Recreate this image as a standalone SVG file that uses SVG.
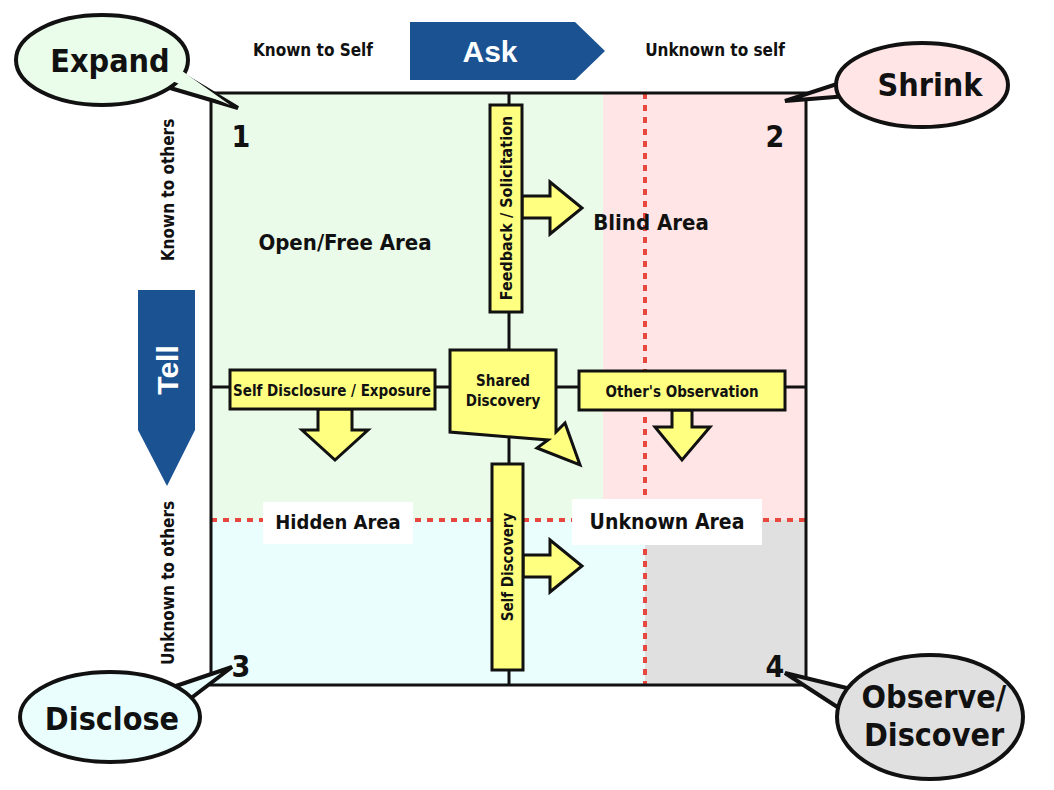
<svg xmlns="http://www.w3.org/2000/svg" width="1054" height="790" viewBox="0 0 1054 790">
<style>
.t{font-family:"DejaVu Sans Condensed","DejaVu Sans",sans-serif;font-weight:bold;fill:#111;text-anchor:middle}
.y{fill:#ffff80;stroke:#111;stroke-width:3;stroke-linejoin:miter}
.red{stroke:#e8473d;stroke-width:4;stroke-dasharray:6 6;fill:none}
.bub{stroke:#111;stroke-width:4}
</style>
<rect width="1054" height="790" fill="#fff"/>
<g id="quadrants">
<rect x="211" y="93" width="392" height="427" fill="#ebfbea"/>
<rect x="603" y="93" width="203" height="427" fill="#ffe5e5"/>
<rect x="211" y="520" width="434" height="165" fill="#eafefe"/>
<rect x="645" y="520" width="161" height="165" fill="#e0e0e0"/>
<line class="red" x1="645" y1="93" x2="645" y2="685"/>
<line class="red" x1="211" y1="520" x2="806" y2="520"/>
<rect x="211" y="93" width="595" height="592" fill="none" stroke="#111" stroke-width="3"/>
</g>
<g id="connectors" stroke="#111" stroke-width="3">
<line x1="509" y1="93" x2="509" y2="685"/>
<line x1="211" y1="387" x2="806" y2="387"/>
</g>
<g id="labels">
<text class="t" x="313" y="56" font-size="17" font-weight="normal">Known to Self</text>
<text class="t" x="715" y="56" font-size="17">Unknown to self</text>
<text class="t" x="0" y="0" font-size="17" transform="translate(174,190) rotate(-90)">Known to others</text>
<text class="t" x="0" y="0" font-size="17" transform="translate(174,583) rotate(-90)">Unknown to others</text>
<text class="t" x="241" y="147" font-size="30">1</text>
<text class="t" x="775" y="147" font-size="30">2</text>
<text class="t" x="241" y="677" font-size="30">3</text>
<text class="t" x="775" y="677" font-size="30">4</text>
<text class="t" x="345" y="250" font-size="22">Open/Free Area</text>
<text class="t" x="651" y="230" font-size="22">Blind Area</text>
</g>
<g id="ask">
<path d="M410 22H575L605 51L575 80H410Z" fill="#1a5292"/>
<text x="490" y="62" font-family="Liberation Sans,Arial,sans-serif" font-weight="bold" font-size="30" fill="#fff" text-anchor="middle">Ask</text>
</g>
<g id="tell">
<path d="M138 290H195V430L167 486L138 430Z" fill="#1a5292"/>
<text x="0" y="0" font-family="Liberation Sans,Arial,sans-serif" font-weight="bold" font-size="30" fill="#fff" text-anchor="middle" transform="translate(178,370) rotate(-90)">Tell</text>
</g>
<g id="feedback">
<path class="y" d="M522 196H550V182L582 208L550 234V218H522Z"/>
<rect class="y" x="490" y="105" width="32" height="207"/>
<text class="t" font-size="16" transform="translate(512,208) rotate(-90)">Feedback / Solicitation</text>
</g>
<g id="shared">
<path class="y" d="M450 350H556V432L565 423L580 465L537 448L548 440L450 432Z"/>
<path class="y" d="M450 350H556V418L565 418L580 465L537 449L548 432L450 432Z" opacity="0"/>
<text class="t" font-size="15" x="503" y="386">Shared</text>
<text class="t" font-size="15" x="503" y="406">Discovery</text>
</g>
<g id="selfdisclosure">
<path class="y" d="M318 409H352V430H368L335 460L302 430H318Z"/>
<rect class="y" x="230" y="370" width="205" height="39"/>
<text class="t" font-size="15" x="332" y="396">Self Disclosure / Exposure</text>
</g>
<g id="observation">
<path class="y" d="M672 410H692V427H710L682 460L655 427H672Z"/>
<rect class="y" x="579" y="371" width="206" height="39"/>
<text class="t" font-size="15" x="682" y="397">Other's Observation</text>
</g>
<g id="selfdiscovery">
<path class="y" d="M523 555H550V540L582 566L550 592V577H523Z"/>
<rect class="y" x="492" y="464" width="31" height="206"/>
<text class="t" font-size="15" transform="translate(513,567) rotate(-90)">Self Discovery</text>
</g>
<g id="hidden">
<rect x="263" y="502" width="150" height="42" fill="#fff"/>
<text class="t" font-size="20" x="338" y="529">Hidden Area</text>
</g>
<g id="unknown">
<rect x="572" y="499" width="190" height="46" fill="#fff"/>
<text class="t" font-size="21" x="667" y="529">Unknown Area</text>
</g>
<g id="expand">
<path class="bub" d="M160 85L238 108L175 70Z" fill="#eafcea"/>
<ellipse class="bub" cx="102" cy="60" rx="86" ry="45" fill="#eafcea"/>
<path d="M165 78L230 105L178 68Z" fill="#eafcea"/>
<text class="t" font-size="32" x="110" y="72">Expand</text>
</g>
<g id="shrink">
<path class="bub" d="M860 95L785 101L855 78Z" fill="#ffe5e5"/>
<ellipse class="bub" cx="922" cy="85" rx="86" ry="42" fill="#ffe5e5"/>
<text class="t" font-size="32" x="930" y="96">Shrink</text>
</g>
<g id="disclose">
<path class="bub" d="M170 688L232 667L182 705Z" fill="#eafefe"/>
<ellipse class="bub" cx="110" cy="717" rx="90" ry="45" fill="#eafefe"/>
<text class="t" font-size="32" x="112" y="730">Disclose</text>
</g>
<g id="observe">
<path class="bub" d="M855 690L785 673L845 712Z" fill="#e0e0e0"/>
<ellipse class="bub" cx="930" cy="717" rx="93" ry="62" fill="#e0e0e0"/>
<text class="t" font-size="32" x="934" y="708">Observe/</text>
<text class="t" font-size="32" x="934" y="746">Discover</text>
</g>
</svg>
